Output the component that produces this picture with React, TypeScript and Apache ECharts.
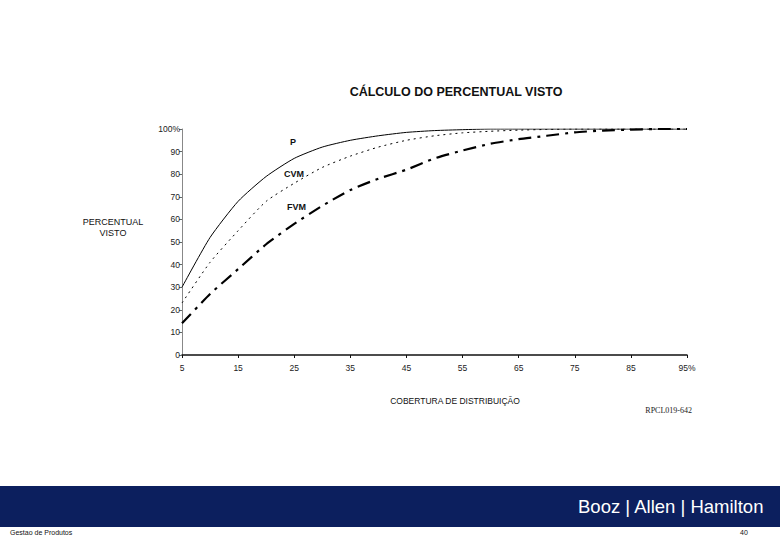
import React, { useEffect, useRef } from "react";
import * as echarts from "echarts";

const coverage = [5, 10, 15, 20, 25, 30, 35, 40, 45, 50, 55, 60, 65, 70, 75, 80, 85, 90, 95];
const seriesP = [30, 52, 68, 79, 87, 92, 95, 97, 98.5, 99.3, 99.7, 100, 100, 100, 100, 100, 100, 100, 100];
const seriesCVM = [23, 41, 55, 68, 76, 83, 88, 92, 95, 97, 98.3, 99, 99.5, 99.8, 100, 100, 100, 100, 100];
const seriesFVM = [14, 27, 38, 49, 58, 66, 73, 78, 82, 87, 90.5, 93.5, 95.5, 97, 98.5, 99.3, 99.7, 100, 100];
const seriesNames = ["P", "CVM", "FVM"];

const FONT = "Liberation Sans, Arial, sans-serif";

export default function App() {
  const ref = useRef<HTMLDivElement>(null);
  useEffect(() => {
    if (!ref.current) return;
    const chart = echarts.init(ref.current, null, { renderer: "svg" });
    const toPairs = (vals: number[]) => coverage.map((c, i) => [c, vals[i]]);
    chart.setOption({
      animation: false,
      backgroundColor: "#ffffff",
      grid: { left: 182, right: 93, top: 129, bottom: 185 },
      xAxis: {
        type: "value",
        min: 5,
        max: 95,
        interval: 10,
        axisLine: { lineStyle: { color: "#111", width: 1.5 } },
        axisTick: { show: true, length: 3, lineStyle: { color: "#111" } },
        splitLine: { show: false },
        axisLabel: {
          fontFamily: FONT,
          fontSize: 8.5,
          color: "#222",
          margin: 8,
          formatter: (v: number) => (v === 95 ? "95%" : String(v)),
        },
      },
      yAxis: {
        type: "value",
        min: 0,
        max: 100,
        interval: 10,
        axisLine: { show: true, lineStyle: { color: "#888", width: 1 } },
        axisTick: { show: true, length: 3, lineStyle: { color: "#666" } },
        splitLine: { show: false },
        axisLabel: {
          fontFamily: FONT,
          fontSize: 8.5,
          color: "#222",
          margin: 2,
          formatter: (v: number) => (v === 100 ? "100%" : String(v)),
        },
      },
      series: [
        {
          name: seriesNames[0],
          type: "line",
          data: toPairs(seriesP),
          showSymbol: false,
          smooth: 0.2,
          lineStyle: { color: "#000", width: 1, type: "solid" },
        },
        {
          name: seriesNames[1],
          type: "line",
          data: toPairs(seriesCVM),
          showSymbol: false,
          smooth: 0.2,
          lineStyle: { color: "#000", width: 1, type: [2, 4] },
        },
        {
          name: seriesNames[2],
          type: "line",
          data: toPairs(seriesFVM),
          showSymbol: false,
          smooth: 0.2,
          lineStyle: { color: "#000", width: 2.2, type: [13, 6, 3, 6] },
        },
      ],
      graphic: [
        {
          type: "text",
          x: 456,
          y: 85,
          style: { text: "CÁLCULO DO PERCENTUAL VISTO", font: `bold 12.5px ${FONT}`, fill: "#111", align: "center" },
        },
        { type: "text", left: 290, top: 137, style: { text: seriesNames[0], font: `bold 9px ${FONT}`, fill: "#111" } },
        { type: "text", left: 284, top: 169, style: { text: seriesNames[1], font: `bold 9px ${FONT}`, fill: "#111" } },
        { type: "text", left: 287, top: 202, style: { text: seriesNames[2], font: `bold 9px ${FONT}`, fill: "#111" } },
        {
          type: "text",
          x: 113,
          y: 216,
          style: { text: "PERCENTUAL\nVISTO", font: `9px ${FONT}`, fill: "#111", align: "center", lineHeight: 11 },
        },
        {
          type: "text",
          x: 455,
          y: 396,
          style: { text: "COBERTURA DE DISTRIBUIÇÃO", font: `8.5px ${FONT}`, fill: "#111", align: "center" },
        },
        {
          type: "text",
          x: 692,
          y: 406,
          style: { text: "RPCL019-642", font: "8px 'Liberation Serif', serif", fill: "#222", align: "right" },
        },
        { type: "rect", shape: { x: 0, y: 486, width: 780, height: 41 }, style: { fill: "#0c1f5e" } },
        {
          type: "text",
          x: 578,
          y: 497,
          style: { text: "Booz | Allen | Hamilton", font: `18.5px ${FONT}`, fill: "#ffffff" },
        },
        { type: "text", x: 10, y: 529, style: { text: "Gestao de Produtos", font: `7px ${FONT}`, fill: "#111" } },
        { type: "text", x: 740, y: 529, style: { text: "40", font: `7px ${FONT}`, fill: "#111" } },
      ],
    });
    return () => chart.dispose();
  }, []);
  return <div ref={ref} style={{ position: "fixed", left: 0, top: 0, width: 780, height: 540 }} />;
}
